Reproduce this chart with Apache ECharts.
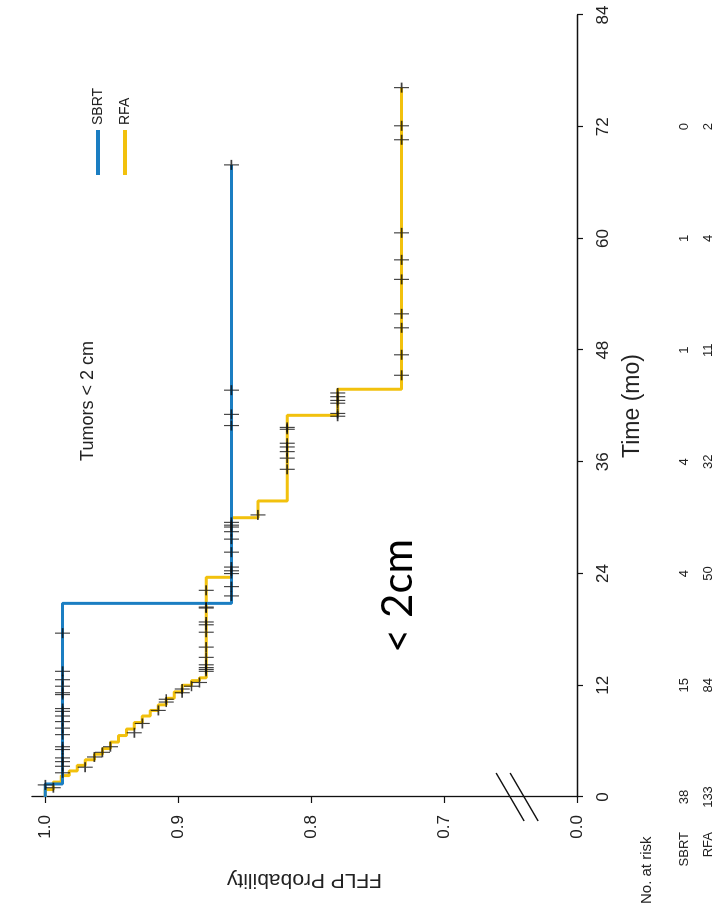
<!DOCTYPE html>
<html>
<head>
<meta charset="utf-8">
<script src="https://cdn.jsdelivr.net/npm/echarts@6/dist/echarts.min.js"></script>
<style>
  html, body { margin: 0; padding: 0; background: #fff; width: 724px; height: 921px; overflow: hidden; }
  /* the figure is laid out landscape and turned a quarter turn counter-clockwise */
  #chart { position: absolute; left: 0; top: 0; width: 921px; height: 724px;
           transform-origin: 0 0; transform: translate(0, 921px) rotate(-90deg); }
</style>
</head>
<body>
<div id="chart"></div>
<script>
// ---- axes / table ----
const timeTicks = [0, 12, 24, 36, 48, 60, 72, 84];
const probTicks = [0.6, 0.7, 0.8, 0.9, 1.0];        // 0.6 slot carries the "0.0" label after the break
const probTickLabels = ['0.0', '0.7', '0.8', '0.9', '1.0'];
const atRiskSBRT = [38, 15, 4, 4, 1, 1, 0];
const atRiskRFA = [133, 84, 50, 32, 11, 4, 2];

// ---- Kaplan-Meier curves (time in months, FFLP probability) ----
const sbrtTime = [0, 1.4, 20.8, 67.9];
const sbrtSurv = [1.0, 0.987, 0.86, 0.86];

const rfaTime = [0, 0.8, 1.6, 2.3, 2.8, 3.4, 4.0, 4.6, 5.2, 5.9, 6.6, 7.3, 8.0, 8.7, 9.3, 9.9, 10.6, 11.3, 12.0, 12.5, 12.8, 23.6, 30.0, 31.8, 41.0, 43.8, 76.2];
const rfaSurv = [1.0, 0.994, 0.988, 0.982, 0.976, 0.97, 0.963, 0.957, 0.951, 0.945, 0.939, 0.933, 0.927, 0.921, 0.915, 0.909, 0.903, 0.897, 0.89, 0.884, 0.879, 0.86, 0.84, 0.818, 0.78, 0.732, 0.732];

// ---- censoring marks ----
const sbrtCensorTime = [1.3, 2.6, 3.3, 3.8, 4.2, 5.1, 5.4, 6.7, 7.4, 8.1, 8.7, 9.2, 9.5, 11.0, 11.2, 11.9, 12.6, 13.5, 17.6, 21.6, 22.6, 24.0, 24.3, 24.7, 26.3, 39.9, 41.1, 43.7, 67.9];
const sbrtCensorSurv = [1.0, 0.987, 0.987, 0.987, 0.987, 0.987, 0.987, 0.987, 0.987, 0.987, 0.987, 0.987, 0.987, 0.987, 0.987, 0.987, 0.987, 0.987, 0.987, 0.86, 0.86, 0.86, 0.86, 0.86, 0.86, 0.86, 0.86, 0.86, 0.86];

const rfaCensorTime = [1.0, 3.2, 4.3, 4.8, 5.4, 6.9, 7.9, 9.3, 10.2, 10.5, 11.2, 11.6, 11.9, 12.3, 13.5, 13.7, 13.9, 14.2, 15.0, 16.1, 17.7, 18.5, 18.8, 20.3, 20.4, 22.2, 27.7, 28.5, 29.0, 29.2, 29.5, 30.3, 35.2, 36.4, 37.1, 37.6, 38.0, 39.5, 39.7, 40.9, 41.2, 42.3, 42.6, 43.0, 43.4, 45.3, 47.5, 50.4, 51.9, 55.6, 57.7, 60.6, 70.6, 72.1, 76.2];
const rfaCensorSurv = [0.994, 0.97, 0.963, 0.957, 0.951, 0.933, 0.927, 0.915, 0.909, 0.909, 0.897, 0.897, 0.89, 0.884, 0.879, 0.879, 0.879, 0.879, 0.879, 0.879, 0.879, 0.879, 0.879, 0.879, 0.879, 0.879, 0.86, 0.86, 0.86, 0.86, 0.86, 0.84, 0.818, 0.818, 0.818, 0.818, 0.818, 0.818, 0.818, 0.78, 0.78, 0.78, 0.78, 0.78, 0.78, 0.732, 0.732, 0.732, 0.732, 0.732, 0.732, 0.732, 0.732, 0.732, 0.732];

const breakAt = 0.645;   // where the // marks sit on the probability axis

const FONT = '"Liberation Sans", Arial, Helvetica, sans-serif';
const INK = '#222';
const BLUE = '#1b7ec2';
const GOLD = '#f2c10d';

const pairs = (xs, ys) => xs.map((x, i) => [x, ys[i]]);

const chart = echarts.init(document.getElementById('chart'), null, { renderer: 'canvas' });

function riskAxis(name, values, offset) {
  return {
    type: 'value', gridIndex: 0, position: 'bottom', offset: offset,
    min: 0, max: 84, interval: 12,
    axisLine: { show: false }, axisTick: { show: false }, splitLine: { show: false },
    axisLabel: {
      margin: 0, verticalAlign: 'middle', fontFamily: FONT, fontSize: 13, color: INK,
      formatter: v => { const i = timeTicks.indexOf(v); return i >= 0 && i < values.length ? String(values[i]) : ''; }
    },
    name: name, nameLocation: 'start', nameGap: 35,
    nameTextStyle: { fontFamily: FONT, fontSize: 13, color: INK, verticalAlign: 'middle', align: 'right' }
  };
}

const censorSymbol = 'path://M0,-1L0,1M-1,0L1,0';

chart.setOption({
  animation: false,
  backgroundColor: '#fff',
  textStyle: { fontFamily: FONT },
  grid: { left: 124, right: 15, top: 32, bottom: 147, containLabel: false },
  title: {
    text: 'Tumors < 2 cm', left: 515, top: 74, textAlign: 'center',
    textStyle: { fontFamily: FONT, fontSize: 18, fontWeight: 'normal', color: INK }
  },
  legend: {
    orient: 'vertical', left: 741, top: 86, itemGap: 13,
    itemWidth: 45, itemHeight: 4, icon: 'rect',
    textStyle: { fontFamily: FONT, fontSize: 14, color: INK },
    data: ['SBRT', 'RFA']
  },
  xAxis: [
    {
      type: 'value', gridIndex: 0, position: 'bottom', min: 0, max: 84, interval: 12,
      axisLine: { show: true, onZero: false, lineStyle: { color: '#111', width: 1.3 } },
      axisTick: { show: true, length: 6, lineStyle: { color: '#111', width: 1.2 } },
      axisLabel: { margin: 26, verticalAlign: 'middle', fontFamily: FONT, fontSize: 17, color: INK },
      splitLine: { show: false },
      name: 'Time (mo)', nameLocation: 'middle', nameGap: 44,
      nameTextStyle: { fontFamily: FONT, fontSize: 23, color: INK }
    },
    riskAxis('SBRT', atRiskSBRT, 107),
    riskAxis('RFA', atRiskRFA, 131)
  ],
  yAxis: {
    type: 'value', min: 0.6, max: 1.01,
    axisLine: { show: true, onZero: false, lineStyle: { color: '#111', width: 1.3 } },
    axisTick: { show: true, length: 6, customValues: probTicks, lineStyle: { color: '#111', width: 1.2 } },
    axisLabel: {
      customValues: probTicks, margin: 18, fontFamily: FONT, fontSize: 17, color: INK,
      formatter: v => { const i = probTicks.findIndex(t => Math.abs(t - v) < 1e-6); return i >= 0 ? probTickLabels[i] : ''; }
    },
    splitLine: { show: false },
    name: 'FFLP Probability', nameLocation: 'middle', nameGap: 72,
    nameTextStyle: { fontFamily: FONT, fontSize: 21, color: INK }
  },
  graphic: [
    { type: 'text', left: 17, top: 639, style: { text: 'No. at risk', fontFamily: FONT, fontSize: 15, fill: INK } },
    { type: 'text', x: 268, y: 398, style: { text: '< 2cm', fontFamily: 'Lato, "Open Sans", sans-serif', fontSize: 42, fill: '#000', verticalAlign: 'middle' } }
  ],
  series: [
    {
      name: 'SBRT', type: 'line', step: 'end', data: pairs(sbrtTime, sbrtSurv),
      showSymbol: false, color: BLUE, lineStyle: { color: BLUE, width: 3 }, z: 3
    },
    {
      name: 'RFA', type: 'line', step: 'end', data: pairs(rfaTime, rfaSurv),
      showSymbol: false, color: GOLD, lineStyle: { color: GOLD, width: 3 }, z: 2
    },
    {
      name: 'SBRT censored', type: 'scatter', data: pairs(sbrtCensorTime, sbrtCensorSurv),
      symbol: censorSymbol, symbolSize: [10, 15],
      itemStyle: { color: 'none', borderColor: '#111', borderWidth: 1.4 }, z: 5
    },
    {
      name: 'RFA censored', type: 'scatter', data: pairs(rfaCensorTime, rfaCensorSurv),
      symbol: censorSymbol, symbolSize: [10, 15],
      itemStyle: { color: 'none', borderColor: '#111', borderWidth: 1.4 }, z: 5
    },
    {
      // axis break marks on the probability axis
      name: 'axis break', type: 'custom', data: [[0, breakAt]], clip: false, silent: true, z: 10,
      renderItem: (params, api) => {
        const c = api.coord([0, breakAt]);
        const line = (dx) => ({
          type: 'line',
          shape: { x1: c[0] + 24, y1: c[1] - 14 + dx, x2: c[0] - 24, y2: c[1] + 14 + dx },
          style: { stroke: '#111', lineWidth: 1.3 }
        });
        return { type: 'group', children: [line(-7), line(7)] };
      }
    }
  ]
});
</script>
</body>
</html>
